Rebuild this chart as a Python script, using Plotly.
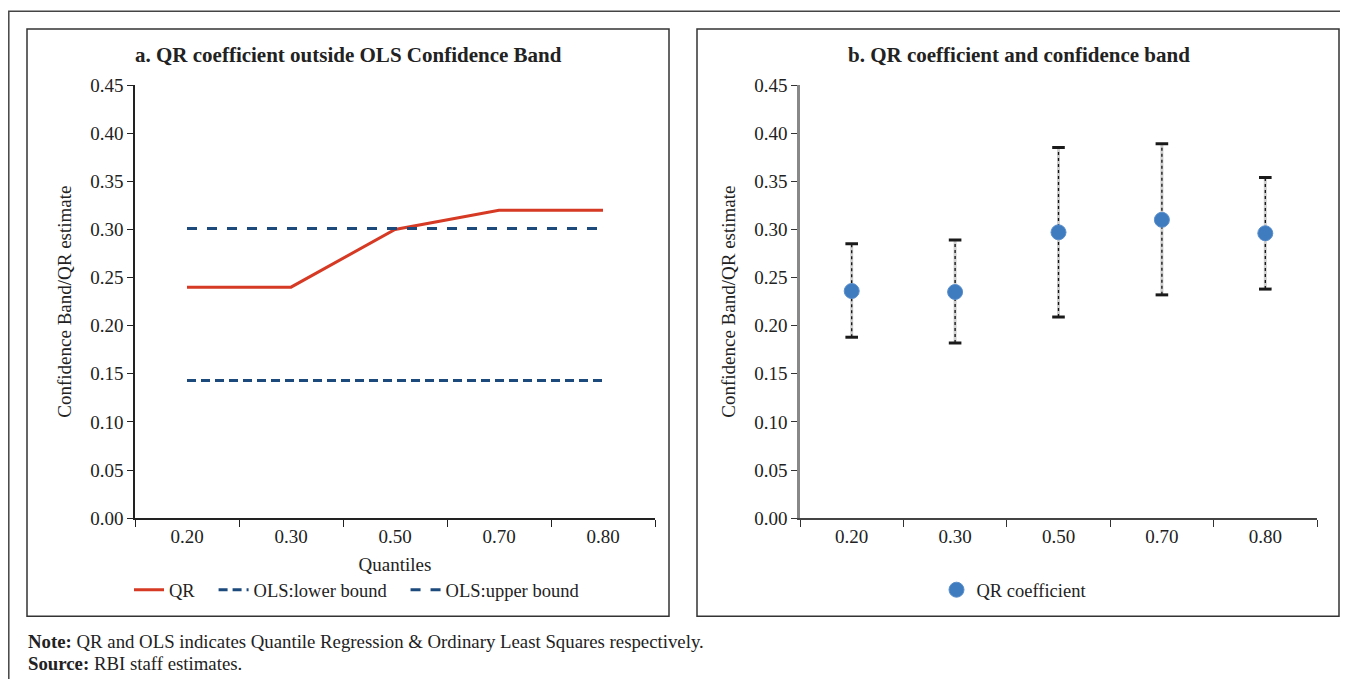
import plotly.graph_objects as go

# ---- data ----
quantiles = ["0.20", "0.30", "0.50", "0.70", "0.80"]
qr_left = [0.24, 0.24, 0.30, 0.32, 0.32]
ols_lower = [0.143, 0.143, 0.143, 0.143, 0.143]
ols_upper = [0.301, 0.301, 0.301, 0.301, 0.301]

qr_coef = [0.236, 0.235, 0.297, 0.310, 0.296]
band_upper = [0.285, 0.289, 0.385, 0.389, 0.354]
band_lower = [0.188, 0.182, 0.209, 0.232, 0.238]

y_ticks = [0.00, 0.05, 0.10, 0.15, 0.20, 0.25, 0.30, 0.35, 0.40, 0.45]

# page body has an 8px margin
OFF = 8
W, H = 1348 - 2 * OFF, 682
# empirical vertical mapping of the capture
VS, VC = 0.969, 10.2
FONT = "Liberation Serif"

def px(x):
    return (x - OFF) / W

def py(y):
    return 1 - ((y - VC) / VS - OFF) / H

fig = go.Figure()

# left panel
fig.add_trace(go.Scatter(x=quantiles, y=qr_left, name="QR&nbsp;&nbsp;&nbsp;", mode="lines",
                         line=dict(color="#d63a25", width=3), xaxis="x", yaxis="y",
                         legend="legend"))
fig.add_trace(go.Scatter(x=quantiles, y=ols_lower, name="OLS:lower bound&nbsp;&nbsp;&nbsp;", mode="lines",
                         line=dict(color="#1c4a7c", width=3, dash="9px,5px"), xaxis="x", yaxis="y",
                         legend="legend"))
fig.add_trace(go.Scatter(x=quantiles, y=ols_upper, name="OLS:upper bound", mode="lines",
                         line=dict(color="#1c4a7c", width=3, dash="10px,10px"), xaxis="x", yaxis="y",
                         legend="legend"))

# right panel: confidence band whiskers
wx, wy = [], []
for q, lo, hi in zip(quantiles, band_lower, band_upper):
    wx += [q, q, None]
    wy += [lo, hi, None]
fig.add_trace(go.Scatter(x=wx, y=wy, mode="lines", showlegend=False,
                         line=dict(color="#cfcfcf", width=3), xaxis="x2", yaxis="y2", hoverinfo="skip"))
fig.add_trace(go.Scatter(x=wx, y=wy, mode="lines", showlegend=False,
                         line=dict(color="#111111", width=1.3, dash="dot"), xaxis="x2", yaxis="y2", hoverinfo="skip"))
fig.add_trace(go.Scatter(x=quantiles + quantiles, y=band_upper + band_lower, mode="markers",
                         showlegend=False, marker=dict(symbol="line-ew", size=9,
                                                       line=dict(color="#1a1a1a", width=3)),
                         xaxis="x2", yaxis="y2", hoverinfo="skip"))
fig.add_trace(go.Scatter(x=quantiles, y=qr_coef, name="QR coefficient", mode="markers",
                         marker=dict(color="#3f7bbf", size=15, line=dict(color="#5a8fcc", width=1)),
                         xaxis="x2", yaxis="y2", legend="legend2"))

TXT = "#222"
tickfont = dict(family=FONT, size=19, color=TXT)
yaxis_common = dict(range=[0, 0.45], tickvals=y_ticks, tickformat=".2f", ticks="outside",
                    ticklen=6, showline=True, showgrid=False, zeroline=False, tickfont=tickfont,
                    title=dict(text="Confidence Band/QR estimate",
                               font=dict(family=FONT, size=19, color=TXT), standoff=14))
xaxis_common = dict(type="category", range=[-0.5, 4.5], tickson="boundaries", ticks="outside",
                    ticklen=7, showline=True, showgrid=False, zeroline=False, tickfont=tickfont)

fig.update_layout(
    width=W, height=H,
    margin=dict(l=0, r=0, t=0, b=0),
    paper_bgcolor="white", plot_bgcolor="white",
    font=dict(family=FONT, size=18, color=TXT),
    xaxis=dict(domain=[px(135), px(655)], anchor="y", linecolor="#222", tickcolor="#222",
               linewidth=1.5, title=dict(text="Quantiles", font=dict(family=FONT, size=19, color=TXT),
                                         standoff=12), **xaxis_common),
    yaxis=dict(domain=[py(518), py(85)], anchor="x", linecolor="#222", tickcolor="#222",
               linewidth=1.5, **yaxis_common),
    xaxis2=dict(domain=[px(800), px(1317)], anchor="y2", linecolor="#444", tickcolor="#333",
                linewidth=2, **xaxis_common),
    yaxis2=dict(domain=[py(518), py(85)], anchor="x2", linecolor="#888", tickcolor="#333",
                linewidth=2.5, **yaxis_common),
    legend=dict(orientation="h", x=px(357), y=py(590), xanchor="center", yanchor="middle",
                font=dict(family=FONT, size=18.5, color=TXT), bgcolor="rgba(0,0,0,0)",
                tracegroupgap=0),
    legend2=dict(orientation="h", x=px(1014), y=py(590), xanchor="center", yanchor="middle",
                 font=dict(family=FONT, size=18.5, color=TXT), bgcolor="rgba(0,0,0,0)",
                 itemwidth=30),
    showlegend=True,
)

# frames
shapes = [
    dict(type="rect", xref="paper", yref="paper", x0=px(8.8), x1=px(1400), y0=py(740), y1=py(max(8.8, VC + 1)),
         line=dict(color="#444", width=1.5)),
    dict(type="rect", xref="paper", yref="paper", x0=px(27), x1=px(669), y0=py(616), y1=py(29),
         line=dict(color="#333", width=1.5)),
    dict(type="rect", xref="paper", yref="paper", x0=px(697), x1=px(1339), y0=py(616), y1=py(29),
         line=dict(color="#333", width=1.5)),
]
fig.update_layout(shapes=shapes)

annotations = [
    dict(text="<b>a. QR coefficient outside OLS Confidence Band</b>", x=px(348), y=py(55),
         xref="paper", yref="paper", showarrow=False, xanchor="center", yanchor="middle",
         font=dict(family=FONT, size=21, color=TXT)),
    dict(text="<b>b. QR coefficient and confidence band</b>", x=px(1019), y=py(55),
         xref="paper", yref="paper", showarrow=False, xanchor="center", yanchor="middle",
         font=dict(family=FONT, size=21, color=TXT)),
    dict(text="<b>Note:</b> QR and OLS indicates Quantile Regression &amp; Ordinary Least Squares respectively.",
         x=px(26), y=py(641), xref="paper", yref="paper", showarrow=False, xanchor="left",
         yanchor="middle", font=dict(family=FONT, size=18.8, color=TXT)),
    dict(text="<b>Source:</b> RBI staff estimates.",
         x=px(26), y=py(663), xref="paper", yref="paper", showarrow=False, xanchor="left",
         yanchor="middle", font=dict(family=FONT, size=18.8, color=TXT)),
]
fig.update_layout(annotations=annotations)

fig.write_html("out.html")
